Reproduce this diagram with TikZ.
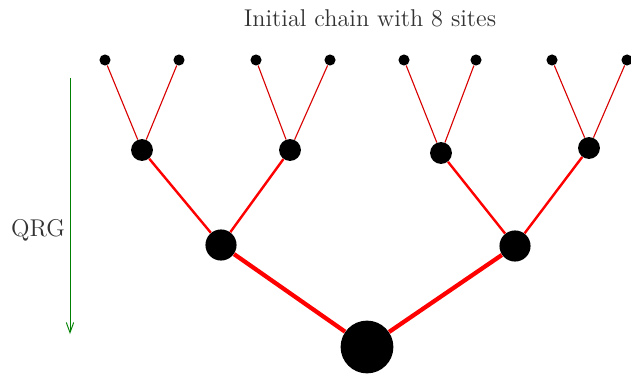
\documentclass[tikz,border=0pt]{standalone}
\usetikzlibrary{arrows.meta}
\begin{document}
\begin{tikzpicture}[x=0.54pt,y=-0.54pt,
  site/.style={circle,fill=black,inner sep=0pt,minimum size=#1},
  e1/.style={draw=red!85!black,line width=0.6pt},
  e2/.style={draw=red,line width=1.3pt},
  e3/.style={draw=red,line width=2.3pt},
  lbl/.style={text=black!80,font=\fontsize{13.1}{15}\selectfont}]
\useasboundingbox (0,0) rectangle (631,375);
% leaves
\node[site=6pt] (l1) at (105,60) {};
\node[site=6pt] (l2) at (179,60) {};
\node[site=6pt] (l3) at (256,60) {};
\node[site=6pt] (l4) at (330,60) {};
\node[site=6pt] (l5) at (404,60) {};
\node[site=6pt] (l6) at (476,60) {};
\node[site=6pt] (l7) at (552,60) {};
\node[site=6pt] (l8) at (627,60) {};
% level 2
\node[site=11.8pt] (m1) at (142,150) {};
\node[site=11.8pt] (m2) at (290,150) {};
\node[site=11.8pt] (m3) at (441,153) {};
\node[site=11.8pt] (m4) at (589,148) {};
% level 3
\node[site=16.8pt] (n1) at (221,245) {};
\node[site=16.8pt] (n2) at (515,246) {};
% root
\node[site=28.5pt] (r) at (367,347) {};
% edges
\draw[e1] (l1) -- (m1); \draw[e1] (l2) -- (m1);
\draw[e1] (l3) -- (m2); \draw[e1] (l4) -- (m2);
\draw[e1] (l5) -- (m3); \draw[e1] (l6) -- (m3);
\draw[e1] (l7) -- (m4); \draw[e1] (l8) -- (m4);
\draw[e2] (m1) -- (n1); \draw[e2] (m2) -- (n1);
\draw[e2] (m3) -- (n2); \draw[e2] (m4) -- (n2);
\draw[e3] (n1) -- (r); \draw[e3] (n2) -- (r);
% labels
\node[lbl] (title) at (370,18) {Initial chain with 8 sites};
\node[lbl] (qrg) at (38,230) {QRG};
\coordinate (as) at (70,78);
\coordinate (ae) at (70,334);
\draw[green!50!black,line width=0.5pt,-{Straight Barb[length=5.5pt,width=4pt]}] (as) -- (ae);
\end{tikzpicture}
\end{document}
